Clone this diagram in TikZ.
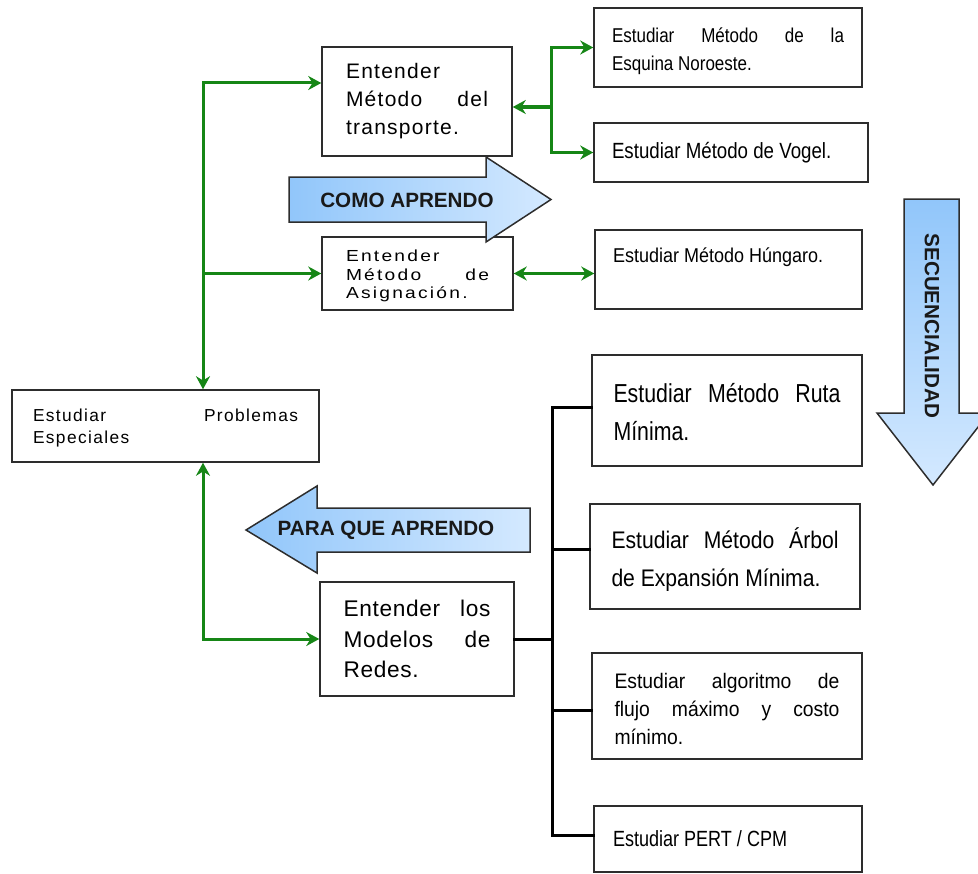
\documentclass[tikz,border=0pt]{standalone}
\usepackage{fontspec}
\setmainfont{Liberation Sans}
\usetikzlibrary{arrows.meta}

% one drawing unit = one pixel of the layout grid
\newdimen\pxu \pxu=0.75pt

\definecolor{conngreen}{RGB}{22,134,22}
\definecolor{boxline}{RGB}{45,45,45}
\definecolor{bluedeep}{RGB}{145,198,250}
\definecolor{bluelight}{RGB}{212,233,255}

% size, line skip, horizontal stretch, letter spacing
\newcommand\boxfont[4]{\fontsize{#1}{#2}\selectfont\addfontfeatures{FakeStretch=#3,LetterSpace=#4}}
% lower a text block inside its box without changing the box size
\newcommand\lowerby[2]{\raisebox{-#1}[\height][\depth]{#2}}

\tikzset{
  box/.style={draw=boxline, line width=1.125pt, fill=white, rectangle, inner sep=0pt},
  gline/.style={draw=conngreen, line width=2.25pt, line cap=rect},
  garrow/.style={gline, -{Stealth[length=9.75pt,width=10.5pt]}},
  gboth/.style={gline, {Stealth[length=9.75pt,width=10.5pt]}-{Stealth[length=9.75pt,width=10.5pt]}},
  busline/.style={draw=black, line width=2.25pt, line cap=rect},
  blockarrow/.style={draw=boxline, line width=1.125pt},
  bigtext/.style={font=\fontsize{15.5pt}{18pt}\selectfont\bfseries, text=black!90, inner sep=0pt},
}

\begin{document}
\begin{tikzpicture}[x=0.75pt,y=-0.75pt]
\useasboundingbox (0,0) rectangle (978,874);

% ---- boxes ----
\node[box, minimum width=142.5pt, minimum height=81.75pt] (trans) at (417,101.5)
  {\parbox{142\pxu}{\boxfont{15.75pt}{21pt}{1}{6}Entender\\Método\hfill del\\transporte.}};

\node[box, minimum width=143.25pt, minimum height=54.75pt] (asig) at (417.5,273.5)
  {\lowerby{2pt}{\parbox{143\pxu}{\boxfont{12pt}{14pt}{1.2}{14}Entender\\Método\hfill de\\Asignación.}}};

\node[box, minimum width=201pt, minimum height=59.25pt] (noro) at (728,47.5)
  {\lowerby{3pt}{\parbox{232\pxu}{\boxfont{15pt}{21pt}{0.85}{0}Estudiar\hfill Método\hfill de\hfill la\\Esquina Noroeste.}}};

\node[box, minimum width=205.5pt, minimum height=44.25pt] (vogel) at (731,152.5)
  {\makebox[238\pxu][l]{\boxfont{16.5pt}{20pt}{0.85}{0}Estudiar Método de Vogel.}};

\node[box, minimum width=200.25pt, text height=24pt, text depth=35.25pt] (hung) at (728.5,269.5)
  {\makebox[231\pxu][l]{\boxfont{15pt}{18pt}{0.9}{0}Estudiar Método Húngaro.}};

\node[box, minimum width=230.25pt, minimum height=54pt] (prob) at (165.5,426)
  {\lowerby{1.5pt}{\parbox{265\pxu}{\boxfont{13pt}{17pt}{1}{8}Estudiar\hfill Problemas\\Especiales}}};

\node[box, minimum width=145.5pt, minimum height=85.5pt] (redes) at (417,639)
  {\parbox{147\pxu}{\boxfont{17pt}{23pt}{1}{3}Entender\hfill los\\Modelos\hfill de\\Redes.}};

\node[box, minimum width=202.5pt, minimum height=83.25pt] (ruta) at (727,410.5)
  {\lowerby{1.5pt}{\parbox{227\pxu}{\boxfont{19.5pt}{28.5pt}{0.82}{0}Estudiar\hfill Método\hfill Ruta\\Mínima.}}};

\node[box, minimum width=202.5pt, minimum height=78.75pt] (arbol) at (725,556.5)
  {\lowerby{2.5pt}{\parbox{227\pxu}{\boxfont{18pt}{28.5pt}{0.88}{0}Estudiar\hfill Método\hfill Árbol\\de Expansión Mínima.}}};

\node[box, minimum width=202.5pt, minimum height=79.5pt] (flujo) at (727,706)
  {\lowerby{2pt}{\parbox{225\pxu}{\boxfont{15.75pt}{21pt}{0.92}{0}Estudiar\hfill algoritmo\hfill de\\flujo\hfill máximo\hfill y\hfill costo\\mínimo.}}};

\node[box, minimum width=201pt, minimum height=49.5pt] (pert) at (728,839)
  {\makebox[230\pxu][l]{\boxfont{16.5pt}{20pt}{0.82}{0}Estudiar PERT / CPM}};

% ---- green connectors ----
\coordinate (tA) at (203,83);
\coordinate (tB) at (203,639);
\coordinate (bR) at (551,107);

\draw[garrow] (tA) -- (tA -| trans.west);
\draw[garrow] (tA) -- (tA |- prob.north);
\draw[garrow] (tA |- asig.west) -- (asig.west);
\draw[garrow] (tB) -- (tB |- prob.south);
\draw[garrow] (tB) -- (redes.west);

\draw[gline] (bR |- noro.west) -- (bR |- vogel.west);
\draw[garrow] (bR) -- (bR -| trans.east);
\draw[garrow] (bR |- noro.west) -- (noro.west);
\draw[garrow] (bR |- vogel.west) -- (vogel.west);

\draw[gboth] (asig.east) -- (asig.east -| hung.west);

% ---- black bus to the network methods ----
\coordinate (bus) at (552,639);
\draw[busline] ([yshift=2.6pt]bus |- ruta.west) -- ([yshift=3pt]bus |- pert.west);
\draw[busline] (redes.east) -- (bus);
\draw[busline] ([yshift=2.6pt]bus |- ruta.west) -- ([yshift=2.6pt]ruta.west);
\draw[busline] ([yshift=5.6pt]bus |- arbol.west) -- ([yshift=5.6pt]arbol.west);
\draw[busline] ([yshift=-3pt]bus |- flujo.west) -- ([yshift=-3pt]flujo.west);
\draw[busline] ([yshift=3pt]bus |- pert.west) -- ([yshift=3pt]pert.west);

% ---- block arrows ----
\draw[blockarrow, left color=bluedeep, right color=bluelight]
  (289,177) -- (486,177) -- (486,157) -- (551,199.5) -- (486,242) -- (486,222) -- (289,222) -- cycle;
\node[bigtext] (como) at (407,200) {COMO APRENDO};

\draw[blockarrow, left color=bluedeep, right color=bluelight]
  (530,508) -- (317,508) -- (317,486) -- (246,530) -- (317,573) -- (317,552) -- (530,552) -- cycle;
\node[bigtext] (para) at (386,530) {PARA QUE APRENDO};

\draw[blockarrow, top color=bluedeep, bottom color=bluelight]
  (904,199) -- (959,199) -- (959,413) -- (989,413) -- (933,485) -- (877,413) -- (904,413) -- cycle;
\node[bigtext, rotate=-90] (secu) at (932,326) {SECUENCIALIDAD};

\end{tikzpicture}
\end{document}
